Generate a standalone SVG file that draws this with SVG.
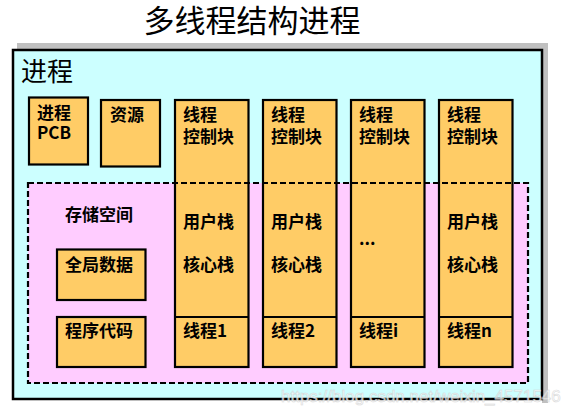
<svg xmlns="http://www.w3.org/2000/svg" width="561" height="416" viewBox="0 0 561 416">
<style>
.t{font-family:"Noto Sans CJK SC","Noto Sans",sans-serif;font-size:17px;font-weight:bold;fill:#000}
.box{fill:#FFCC66;stroke:#000;stroke-width:2.2}
.ln{stroke:#000;stroke-width:2.2;fill:none}
.dash{fill:none;stroke:#000;stroke-width:2.2;stroke-dasharray:6 3}
</style>
<rect width="561" height="416" fill="#fff"/>
<text x="252" y="32" text-anchor="middle" style="font-family:'Noto Sans CJK SC',sans-serif;font-size:31px">多线程结构进程</text>
<g id="process">
<polygon points="17,43 548,43 548,403 542,403 542,50 17,50" fill="#C0C0C0"/>
<rect x="13" y="50" width="529" height="349" fill="#CCFFFF" stroke="#000" stroke-width="2.5"/>
<text x="21" y="81" style="font-family:'Noto Sans CJK SC',sans-serif;font-size:26px">进程</text>
</g>
<g id="storage">
<rect x="28" y="183" width="500" height="200" fill="#FFCCFF"/>
</g>
<g id="pcb">
<rect class="box" x="29" y="97.5" width="59" height="67"/>
<text class="t" x="37" y="119">进程</text>
<text class="t" x="37" y="139">PCB</text>
</g>
<g id="resource">
<rect class="box" x="101" y="100" width="59" height="66.5"/>
<text class="t" x="110" y="121">资源</text>
</g>
<g id="thread1">
<rect class="box" x="175" y="100" width="73.5" height="267"/>
<line class="ln" x1="175" y1="317" x2="248.5" y2="317"/>
<text class="t" x="183" y="121">线程</text>
<text class="t" x="183" y="143">控制块</text>
<text class="t" x="183" y="228">用户栈</text>
<text class="t" x="183" y="271">核心栈</text>
<text class="t" x="183" y="337">线程1</text>
</g>
<g id="thread2">
<rect class="box" x="263" y="100" width="73.5" height="267"/>
<line class="ln" x1="263" y1="317" x2="336.5" y2="317"/>
<text class="t" x="271" y="121">线程</text>
<text class="t" x="271" y="143">控制块</text>
<text class="t" x="271" y="228">用户栈</text>
<text class="t" x="271" y="271">核心栈</text>
<text class="t" x="271" y="337">线程2</text>
</g>
<g id="threadi">
<rect class="box" x="351" y="100" width="73.5" height="267"/>
<line class="ln" x1="351" y1="317" x2="424.5" y2="317"/>
<text class="t" x="359" y="121">线程</text>
<text class="t" x="359" y="143">控制块</text>
<text class="t" x="359" y="245">...</text>
<text class="t" x="359" y="337">线程i</text>
</g>
<g id="threadn">
<rect class="box" x="439" y="100" width="73.5" height="267"/>
<line class="ln" x1="439" y1="317" x2="512.5" y2="317"/>
<text class="t" x="447" y="121">线程</text>
<text class="t" x="447" y="143">控制块</text>
<text class="t" x="447" y="228">用户栈</text>
<text class="t" x="447" y="271">核心栈</text>
<text class="t" x="447" y="337">线程n</text>
</g>
<g id="storage-frame">
<rect class="dash" x="28" y="183" width="500" height="200"/>
<text class="t" x="65" y="221">存储空间</text>
</g>
<g id="global-data">
<rect class="box" x="57" y="249.5" width="88.5" height="50.5"/>
<text class="t" x="65" y="271">全局数据</text>
</g>
<g id="code">
<rect class="box" x="57" y="317" width="88.5" height="50"/>
<text class="t" x="65" y="337">程序代码</text>
</g>
<g id="connectors"></g>
<text x="281" y="402" style="font-family:'Liberation Sans',sans-serif;font-size:17px;fill:#fff;stroke:#d0d0d0;stroke-width:0.6;opacity:0.8">https://blog.csdn.net/weixin_45715461</text>
</svg>
